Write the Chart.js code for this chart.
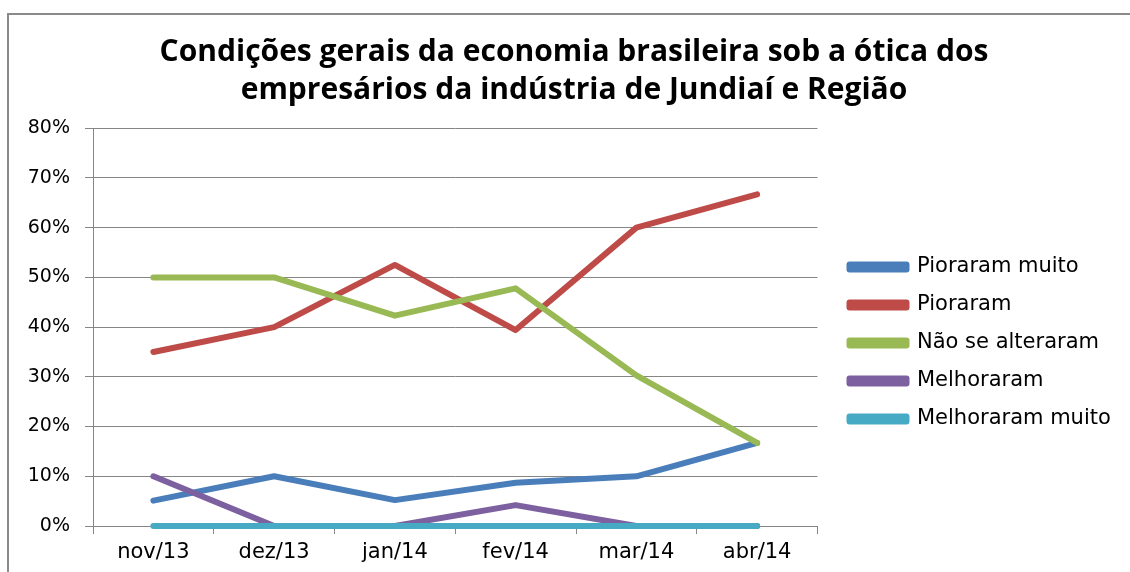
<!DOCTYPE html>
<html>
<head>
<meta charset="utf-8">
<script src="https://cdn.jsdelivr.net/npm/chart.js@4.4.1/dist/chart.umd.min.js"></script>
<style>
  html, body { margin: 0; padding: 0; background: #fff; overflow: hidden; }
  #frame { position: absolute; left: 7px; top: 13px; width: 1300px; height: 800px; border: 2px solid #8a8a8a; box-sizing: border-box; }
  #wrap { position: absolute; left: 0; top: 0; width: 1130px; height: 572px; }
</style>
</head>
<body>
<div id="frame"></div>
<div id="wrap"><canvas id="c" width="1130" height="572"></canvas></div>
<script>
const categories = ["nov/13", "dez/13", "jan/14", "fev/14", "mar/14", "abr/14"];
const seriesNames = ["Pioraram muito", "Pioraram", "Não se alteraram", "Melhoraram", "Melhoraram muito"];
const pioraramMuito = [5.1, 10, 5.2, 8.7, 10, 16.7];
const pioraram = [35, 40, 52.5, 39.4, 60, 66.7];
const naoSeAlteraram = [50, 50, 42.3, 47.8, 30.3, 16.7];
const melhoraram = [10, 0, 0, 4.2, 0, 0];
const melhoraramMuito = [0, 0, 0, 0, 0, 0];
const yTicks = [0, 10, 20, 30, 40, 50, 60, 70, 80];
const titleLines = ["Condições gerais da economia brasileira sob a ótica dos", "empresários da indústria de Jundiaí e Região"];

const colors = ["#4a7ebb", "#be4b48", "#98b954", "#7d60a0", "#46aac5"];
const values = [pioraramMuito, pioraram, naoSeAlteraram, melhoraram, melhoraramMuito];

const datasets = values.map((v, i) => ({
  label: seriesNames[i],
  data: v,
  borderColor: colors[i],
  backgroundColor: colors[i],
  borderWidth: 6,
  borderCapStyle: 'round',
  borderJoinStyle: 'round',
  pointRadius: 0,
  pointHoverRadius: 0,
  tension: 0,
  fill: false,
  clip: false,
  order: 4 - i
}));

// places the legend block and the title as in the reference
const blockPlacement = {
  id: 'blockPlacement',
  afterLayout(chart) {
    const l = chart.legend;
    const dx = chart.chartArea.right + 15 - l.left;
    const dy = 57;
    l.left += dx;
    l.right = chart.width;
    l.width = l.right - l.left;
    l.top += dy; l.bottom += dy;
    const t = chart.titleBlock;
    const tdx = 574 - (t.left + t.right) / 2;
    t.left += tdx; t.right += tdx;
  }
};

new Chart(document.getElementById('c'), {
  type: 'line',
  data: { labels: categories, datasets },
  plugins: [blockPlacement],
  options: {
    responsive: false,
    animation: false,
    events: [],
    layout: { padding: { left: 0, right: 40, top: 0, bottom: 0 } },
    plugins: {
      tooltip: { enabled: false },
      title: {
        display: true,
        text: titleLines,
        color: '#000',
        font: { family: 'Open Sans', weight: 'bold', size: 30, lineHeight: 1.27 },
        padding: { top: 33, bottom: 19 }
      },
      legend: {
        position: 'right',
        align: 'center',
        labels: {
          boxWidth: 57,
          boxHeight: 5,
          padding: 17,
          color: '#000',
          font: { family: 'DejaVu Sans', size: 21 },
          sort: (a, b) => a.datasetIndex - b.datasetIndex
        }
      }
    },
    scales: {
      x: {
        offset: true,
        grid: { display: true, drawOnChartArea: false, drawTicks: true, tickLength: 8, color: '#868686', offset: true },
        border: { display: true, color: '#868686', width: 1 },
        ticks: { color: '#000', font: { family: 'DejaVu Sans', size: 21 }, padding: 6, maxRotation: 0 },
        afterFit: (s) => { s.height = 46; }
      },
      y: {
        min: 0,
        max: 80,
        afterBuildTicks: (s) => { s.ticks = yTicks.map(v => ({ value: v })); },
        grid: { color: '#868686', drawTicks: true, tickLength: 8 },
        border: { display: true, color: '#868686', width: 1 },
        ticks: { color: '#000', font: { family: 'DejaVu Sans', size: 19 }, padding: 15, callback: (v) => v + '%' },
        afterFit: (s) => { s.width = 93; }
      }
    }
  }
});
</script>
</body>
</html>
